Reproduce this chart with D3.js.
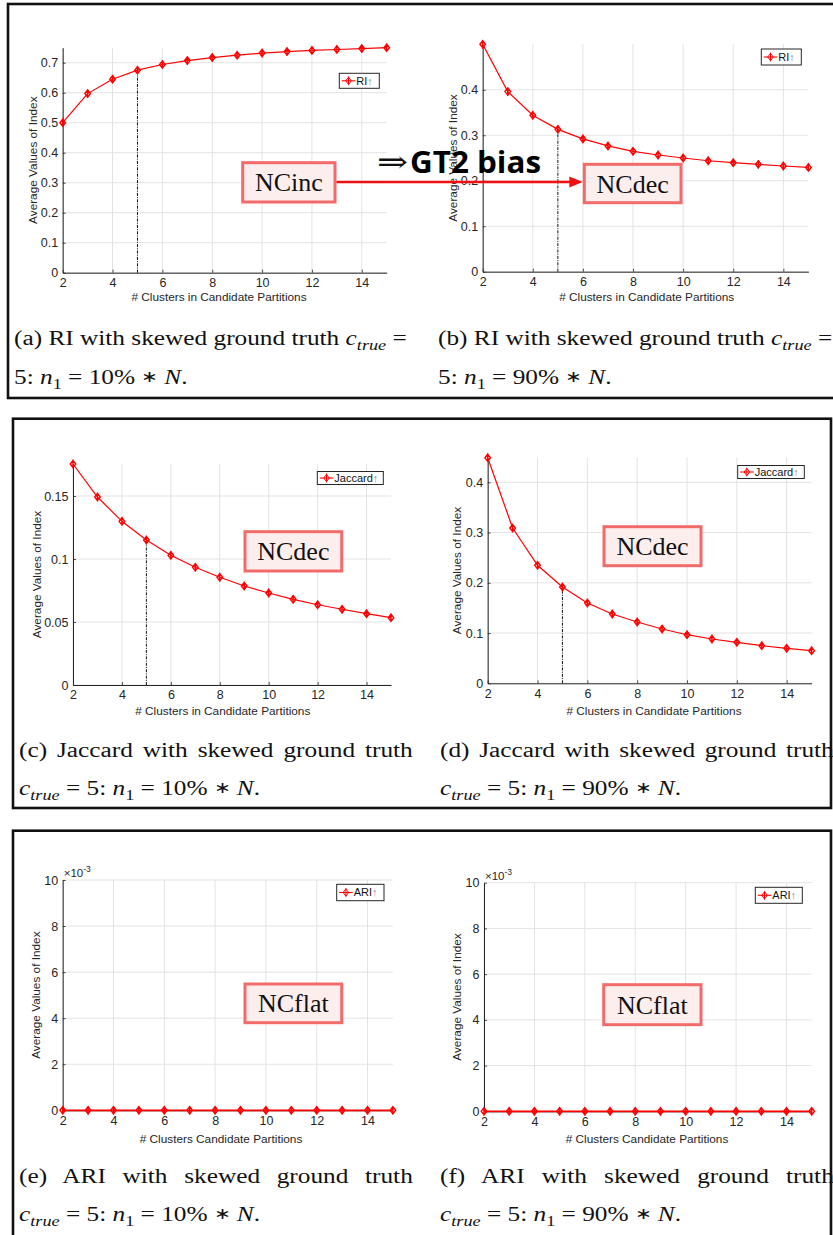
<!DOCTYPE html>
<html><head><meta charset="utf-8">
<script src="https://cdn.jsdelivr.net/npm/d3@7"></script>
<style>body{margin:0;background:#fff;} svg{display:block}</style>
</head><body>
<svg id="chart" width="833" height="1235"></svg>
<script>
// ---------------- data ----------------
const clusters = [2, 3, 4, 5, 6, 7, 8, 9, 10, 11, 12, 13, 14, 15];
const riSkew10 = [0.500, 0.597, 0.645, 0.675, 0.694, 0.707, 0.717, 0.725, 0.732, 0.737, 0.741, 0.744, 0.747, 0.750];
const riSkew90 = [0.500, 0.396, 0.344, 0.313, 0.292, 0.2765, 0.2646, 0.2566, 0.250, 0.244, 0.2397, 0.236, 0.2324, 0.2293];
const jaccardSkew10 = [0.1754, 0.1492, 0.1299, 0.1151, 0.1029, 0.0934, 0.0855, 0.0786, 0.0730, 0.0680, 0.0637, 0.0601, 0.0566, 0.0534];
const jaccardSkew90 = [0.449, 0.309, 0.2348, 0.1916, 0.1598, 0.1379, 0.122, 0.108, 0.0967, 0.0882, 0.0816, 0.0748, 0.0697, 0.0649];
const ariSkew10 = [0, 0, 0, 0, 0, 0, 0, 0, 0, 0, 0, 0, 0, 0];
const ariSkew90 = [0, 0, 0, 0, 0, 0, 0, 0, 0, 0, 0, 0, 0, 0];
const xTicks = [2, 4, 6, 8, 10, 12, 14];
const yTicksRiA = [0, 0.1, 0.2, 0.3, 0.4, 0.5, 0.6, 0.7];
const yTicksRiB = [0, 0.1, 0.2, 0.3, 0.4];
const yTicksJacC = [0, 0.05, 0.1, 0.15];
const yTicksJacD = [0, 0.1, 0.2, 0.3, 0.4];
const yTicksAri = [0, 0.002, 0.004, 0.006, 0.008, 0.01];
const trueClusters = 5;
const legendLabels = ["RI↑", "RI↑", "Jaccard↑", "Jaccard↑", "ARI↑", "ARI↑"];
const xAxisLabels = ["# Clusters in Candidate Partitions", "# Clusters in Candidate Partitions",
  "# Clusters in Candidate Partitions", "# Clusters in Candidate Partitions",
  "# Clusters Candidate Partitions", "# Clusters Candidate Partitions"];
const yAxisLabel = "Average Values of Index";
const trendLabels = ["NCinc", "NCdec", "NCdec", "NCdec", "NCflat", "NCflat"];

// ---------------- layout ----------------
const svg = d3.select("#chart");
const RED = "#ff0000";
const AX = "#262626";
const SANS = "'Liberation Sans', Arial, sans-serif";
const SERIF = "'Liberation Serif', 'Times New Roman', serif";

const fmtG = d3.format("~g");
const panels = [
  {data: riSkew10, yTicks: yTicksRiA, fmt: fmtG, yMax: d3.max(riSkew10), xl: 62.7, xr: 386.7, y0: 272.7, yTop: 47.7,
   leg: {x: 339.3, y: 73.3, w: 40, h: 15}, xLabX: 219, xLabY: 301, yLabX: 33, showTrue: true,
   nc: {x: 242.7, y: 162.7, w: 92.3, h: 39.3}},
  {data: riSkew90, yTicks: yTicksRiB, fmt: fmtG, yMax: d3.max(riSkew90), xl: 482.7, xr: 808.4, y0: 271.7, yTop: 44.3,
   leg: {x: 761.3, y: 49, w: 40, h: 16}, xLabX: 646.7, xLabY: 301, yLabX: 453.3, showTrue: true,
   nc: {x: 584.3, y: 164.3, w: 96.7, h: 38.4}},
  {data: jaccardSkew10, yTicks: yTicksJacC, fmt: fmtG, yMax: d3.max(jaccardSkew10), xl: 73, xr: 391, y0: 685, yTop: 464,
   leg: {x: 317.3, y: 471.5, w: 66, h: 13}, xLabX: 222.8, xLabY: 715, yLabX: 36.7, showTrue: true,
   nc: {x: 245, y: 531.7, w: 96.7, h: 39.3}},
  {data: jaccardSkew90, yTicks: yTicksJacD, fmt: fmtG, yMax: d3.max(jaccardSkew90), xl: 487.7, xr: 811.6, y0: 683.3, yTop: 457.7,
   leg: {x: 737.7, y: 465.5, w: 66.6, h: 13}, xLabX: 654, xLabY: 715, yLabX: 457.3, showTrue: true,
   nc: {x: 604, y: 526.7, w: 97, h: 39}},
  {data: ariSkew10, yTicks: yTicksAri, fmt: d => fmtG(Math.round(d * 1000)), yMax: 0.01, xl: 62.7, xr: 392.9, y0: 1110.3, yTop: 880,
   leg: {x: 336.7, y: 884.3, w: 47.3, h: 16.4}, xLabX: 221, xLabY: 1143, yLabX: 36, showTrue: false, exp: true,
   nc: {x: 245, y: 984, w: 96.7, h: 38.7}},
  {data: ariSkew90, yTicks: yTicksAri, fmt: d => fmtG(Math.round(d * 1000)), yMax: 0.01, xl: 484, xr: 811.7, y0: 1111.3, yTop: 882.7,
   leg: {x: 755.3, y: 887.3, w: 47, h: 16}, xLabX: 647, xLabY: 1143, yLabX: 457.3, showTrue: false, exp: true,
   nc: {x: 603.7, y: 984.7, w: 97.3, h: 40}}
];

// frames
const frames = [
  {x: 8, y: 4, w: 840, h: 394},
  {x: 13, y: 418.7, w: 818, h: 389.3},
  {x: 13, y: 830.7, w: 818, h: 420}
];
svg.selectAll("rect.frame").data(frames).join("rect").attr("class", "frame")
  .attr("x", d => d.x).attr("y", d => d.y).attr("width", d => d.w).attr("height", d => d.h)
  .attr("fill", "none").attr("stroke", "#111").attr("stroke-width", 2.6);

const markerPath = "M0,-3.6L2.8,0L0,3.6L-2.8,0Z M0,-4.4V4.4";

panels.forEach((p, i) => {
  const g = svg.append("g");
  const x = d3.scaleLinear().domain([d3.min(clusters), d3.max(clusters)]).range([p.xl, p.xr]);
  const y = d3.scaleLinear().domain([0, p.yMax]).range([p.y0, p.yTop]);

  // grid
  g.append("g").selectAll("line").data(xTicks).join("line")
    .attr("x1", d => x(d)).attr("x2", d => x(d)).attr("y1", p.y0).attr("y2", p.yTop)
    .attr("stroke", "#e3e3e3").attr("stroke-width", 1);
  g.append("g").selectAll("line").data(p.yTicks).join("line")
    .attr("x1", p.xl).attr("x2", p.xr).attr("y1", d => y(d)).attr("y2", d => y(d))
    .attr("stroke", "#e3e3e3").attr("stroke-width", 1);

  // axes
  const yAxis = d3.axisLeft(y).tickValues(p.yTicks).tickFormat(p.fmt).tickSize(-3).tickSizeOuter(0).tickPadding(4.5);
  const xAxis = d3.axisBottom(x).tickValues(xTicks).tickFormat(d3.format("d")).tickSize(-3).tickSizeOuter(0).tickPadding(5.5);
  const ya = g.append("g").attr("transform", `translate(${p.xl},0)`).call(yAxis);
  const xa = g.append("g").attr("transform", `translate(0,${p.y0})`).call(xAxis);
  [ya, xa].forEach(a => {
    a.select(".domain").attr("stroke", AX).attr("stroke-width", 1);
    a.selectAll(".tick line").attr("stroke", AX).attr("stroke-width", 0.8);
    a.selectAll("text").attr("fill", AX).attr("font-family", SANS).attr("font-size", 12.5);
  });

  if (p.exp) {
    const t = g.append("text").attr("x", p.xl + 1).attr("y", p.yTop - 3)
      .attr("font-family", SANS).attr("font-size", 11.5).attr("fill", AX);
    t.append("tspan").text("×10");
    t.append("tspan").attr("dy", -5).attr("font-size", 8.5).text("-3");
  }

  // axis labels
  g.append("text").attr("x", p.xLabX).attr("y", p.xLabY).attr("text-anchor", "middle")
    .attr("font-family", SANS).attr("font-size", 11.8).attr("fill", AX).text(xAxisLabels[i]);
  g.append("text").attr("transform", `translate(${p.yLabX},${(p.y0 + p.yTop) / 2}) rotate(-90)`)
    .attr("dy", "0.35em").attr("text-anchor", "middle")
    .attr("font-family", SANS).attr("font-size", 11.8).attr("fill", AX).text(yAxisLabel);

  // true cluster line
  if (p.showTrue) {
    const v = p.data[clusters.indexOf(trueClusters)];
    g.append("line").attr("x1", x(trueClusters)).attr("x2", x(trueClusters))
      .attr("y1", p.y0).attr("y2", y(v))
      .attr("stroke", "#111").attr("stroke-width", 1).attr("stroke-dasharray", "3,1.2,1,1.2");
  }

  // series line
  const pts = clusters.map((c, k) => [c, p.data[k]]);
  g.append("path").datum(pts)
    .attr("d", d3.line().x(d => x(d[0])).y(d => y(d[1])))
    .attr("fill", "none").attr("stroke", RED).attr("stroke-width", p.exp ? 1.8 : 1.2);
  g.append("g").selectAll("path").data(pts).join("path")
    .attr("transform", d => `translate(${x(d[0])},${y(d[1])})`)
    .attr("d", markerPath).attr("fill", "none").attr("stroke", RED).attr("stroke-width", 1.4);

  // legend
  const L = p.leg;
  const lg = g.append("g").attr("transform", `translate(${L.x},${L.y})`);
  lg.append("rect").attr("width", L.w).attr("height", L.h).attr("fill", "#fff").attr("stroke", AX).attr("stroke-width", 1);
  lg.append("line").attr("x1", 2.5).attr("x2", 16).attr("y1", L.h / 2).attr("y2", L.h / 2).attr("stroke", RED).attr("stroke-width", 1.1);
  lg.append("path").attr("transform", `translate(9.2,${L.h / 2})`).attr("d", markerPath)
    .attr("fill", "none").attr("stroke", RED).attr("stroke-width", 1);
  const lt = lg.append("text").attr("x", 17).attr("y", L.h / 2).attr("dy", "0.36em")
    .attr("font-family", SANS).attr("font-size", 11).attr("fill", "#111");
  const lab = legendLabels[i];
  lt.append("tspan").text(lab.slice(0, -1));
  lt.append("tspan").attr("fill", "#888").text(lab.slice(-1));
});

// trend annotation boxes
panels.forEach((p, i) => {
  const b = p.nc;
  svg.append("rect").attr("x", b.x).attr("y", b.y).attr("width", b.w).attr("height", b.h)
    .attr("fill", "#fdeeee").attr("stroke", "#f26b6b").attr("stroke-width", 3);
  svg.append("text").attr("x", b.x + b.w / 2).attr("y", b.y + b.h / 2).attr("dy", "0.35em")
    .attr("text-anchor", "middle").attr("font-family", SERIF).attr("font-size", 26)
    .attr("fill", "#111").text(trendLabels[i]);
});

// arrow from NCinc to NCdec
{
  const a = panels[0].nc, b = panels[1].nc;
  const ay = 182;
  svg.append("line").attr("x1", a.x + a.w + 1.5).attr("x2", b.x - 12).attr("y1", ay).attr("y2", ay)
    .attr("stroke", "#f01010").attr("stroke-width", 2.6);
  svg.append("path").attr("d", `M${b.x - 1.5},${ay} L${b.x - 15},${ay - 5.5} L${b.x - 15},${ay + 5.5} Z`)
    .attr("fill", "#f01010");
  svg.append("text").attr("x", 377).attr("y", 172).attr("font-family", "'DejaVu Serif', serif")
    .attr("font-size", 30).attr("fill", "#111")
    .attr("textLength", 31).attr("lengthAdjust", "spacingAndGlyphs").text("⇒");
  svg.append("text").attr("x", 410).attr("y", 172.5).attr("font-family", "'Open Sans', 'Noto Sans', sans-serif")
    .attr("font-weight", 700).attr("font-size", 29.5).attr("fill", "#000")
    .attr("textLength", 131).attr("lengthAdjust", "spacingAndGlyphs").text("GT2 bias");
}

// ---------------- captions ----------------
const capFont = 20;
function makeCaption(x, y, parts) {
  const t = svg.append("text").attr("font-family", SERIF).attr("font-size", capFont).attr("fill", "#111")
    .attr("x", 0).attr("y", 0);
  let shift = 0;
  parts.forEach(([s, type]) => {
    const ts = t.append("tspan").text(s);
    let target = 0;
    if (type === "i" || type === "sub") ts.attr("font-style", "italic");
    if (type === "sub" || type === "subr") { ts.attr("font-size", capFont * 0.72); target = 4.5; }
    if (type === "ast") { ts.attr("font-size", capFont * 0.8); target = -2; }
    if (target !== shift) { ts.attr("dy", target - shift); shift = target; }
  });
  t.attr("transform", `translate(${x},${y})`);
  return t;
}
const pct = ["10", "90"];
const capLabels = [["(a)", "RI"], ["(b)", "RI"], ["(c)", "Jaccard"], ["(d)", "Jaccard"], ["(e)", "ARI"], ["(f)", "ARI"]];
const capX = [14, 438, 19, 440, 19, 440];
const capY1 = [345, 345, 757, 757, 1183, 1183];
const capY2 = [384, 384, 795, 795, 1221, 1221];
const lines1 = [], lines2 = [];
capLabels.forEach((c, i) => {
  const p = pct[i % 2];
  const tail = [[` = ${p}% `, "r"], ["∗", "ast"], [" ", "r"], ["N", "i"], [".", "r"]];
  if (i < 2) {
    lines1.push(makeCaption(capX[i], capY1[i], [[`${c[0]} ${c[1]} with skewed ground truth `, "r"], ["c", "i"], ["true", "sub"], [" =", "r"]]));
    lines2.push(makeCaption(capX[i], capY2[i], [["5:  ", "r"], ["n", "i"], ["1", "subr"], ...tail]));
  } else {
    lines1.push(makeCaption(capX[i], capY1[i], [[`${c[0]} ${c[1]} with skewed ground truth`, "r"]]));
    lines2.push(makeCaption(capX[i], capY2[i], [["c", "i"], ["true", "sub"], [" = 5:  ", "r"], ["n", "i"], ["1", "subr"], ...tail]));
  }
});
const sx = 393 / lines1[0].node().getComputedTextLength();
const justifyTarget = 394;
lines1.forEach((t, i) => {
  if (i >= 2) {
    const nat = t.node().getComputedTextLength();
    const nSp = (t.text().match(/ /g) || []).length;
    t.attr("word-spacing", Math.max(0, (justifyTarget / sx - nat) / nSp));
  }
  t.attr("transform", `translate(${capX[i]},${capY1[i]}) scale(${sx},1)`);
});
lines2.forEach((t, i) => t.attr("transform", `translate(${capX[i]},${capY2[i]}) scale(${sx},1)`));
</script>
</body></html>
